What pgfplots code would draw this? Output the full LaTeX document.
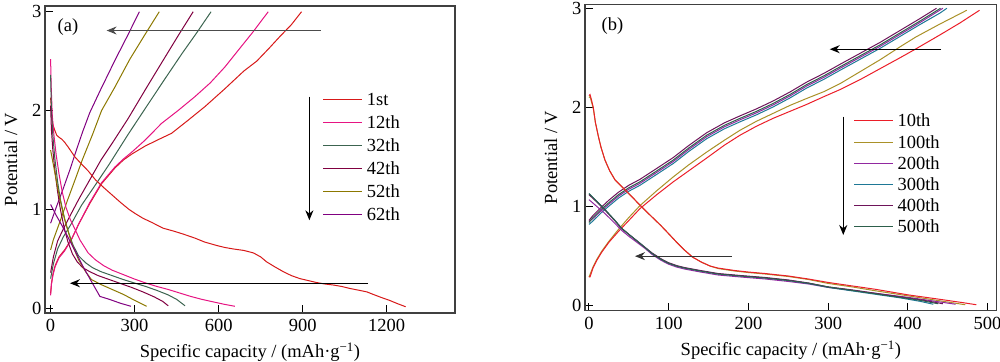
\documentclass[border=0pt]{standalone}
\usepackage{fontspec}
\setmainfont{Liberation Serif}
\usepackage{pgfplots}
\pgfplotsset{compat=1.18}
\usetikzlibrary{arrows.meta}
\newcommand\f{\fontsize{18.5}{22}\selectfont}
\definecolor{aA}{RGB}{215,25,25}
\definecolor{aB}{RGB}{230,20,130}
\definecolor{aC}{RGB}{60,100,80}
\definecolor{aD}{RGB}{128,0,64}
\definecolor{aE}{RGB}{140,120,0}
\definecolor{aF}{RGB}{128,0,128}
\definecolor{bA}{RGB}{235,30,40}
\definecolor{bB}{RGB}{170,145,40}
\definecolor{bC}{RGB}{145,40,160}
\definecolor{bD}{RGB}{30,120,150}
\definecolor{bE}{RGB}{110,20,90}
\definecolor{bF}{RGB}{45,95,75}
\tikzset{
  leg/.style={line width=1.1pt},
  legtxt/.style={font=\f, anchor=west, inner sep=0pt, text height=12pt, text depth=0pt},
}
\pgfplotsset{
  mystyle/.style={
    scale only axis,
    axis line style={line width=1.2pt, black!75},
    tick style={black, line width=1pt},
    tick align=inside,
    xtick pos=bottom, ytick pos=left,
    major tick length=8pt,
    font=\f,
    tick label style={font=\f},
    xticklabel style={yshift=-3pt},
    /pgf/number format/assume math mode=true,
    /pgf/number format/1000 sep={},
    xlabel={Specific capacity / (mAh·g\textsuperscript{−1})},
    ylabel={Potential / V},
    xlabel shift=4pt,
    ylabel shift=8pt,
    every axis plot/.append style={line width=1pt},
  },
}
\begin{document}
\begin{tikzpicture}
\path[use as bounding box] (0,0) rectangle (1000pt,361pt);
% ---------------- panel (a)
\begin{axis}[mystyle,
  at={(45pt,48pt)}, anchor=south west,
  width=410pt, height=307pt,
  xmin=-20, xmax=1444, ymin=-0.048, ymax=3.058,
  xtick={0,300,600,900,1200}, ytick={0,1,2,3},
]
% charge curves
\addplot[aA] coordinates {(0,0.15) (3,0.25) (8,0.34) (16,0.43) (30,0.52) (50,0.59) (75,0.70) (100,0.85) (140,1.06) (182,1.26) (230,1.42) (260,1.50) (290,1.56) (337,1.64) (380,1.70) (432,1.77) (490,1.90) (551,2.04) (622,2.22) (690,2.40) (736,2.50) (780,2.63) (819,2.75) (860,2.87) (896,3.0)};
\addplot[aB] coordinates {(0,0.13) (3,0.24) (8,0.33) (16,0.42) (30,0.51) (50,0.58) (75,0.70) (100,0.85) (140,1.07) (182,1.27) (230,1.43) (260,1.51) (290,1.58) (337,1.70) (396,1.87) (455,2.0) (515,2.14) (570,2.28) (622,2.44) (670,2.61) (724,2.80) (777,3.0)};
\addplot[aC] coordinates {(0,0.30) (10,0.45) (25,0.60) (45,0.72) (75,0.86) (110,1.04) (158,1.24) (210,1.46) (277,1.76) (340,2.03) (408,2.32) (470,2.58) (520,2.78) (573,3.0)};
\addplot[aD] coordinates {(0,0.36) (10,0.52) (25,0.68) (45,0.80) (63,0.90) (100,1.10) (146,1.33) (180,1.50) (220,1.67) (277,1.92) (340,2.22) (400,2.50) (456,2.76) (509,3.0)};
\addplot[aE] coordinates {(0,0.59) (9.5,0.69) (30,0.85) (60,1.09) (90,1.32) (113,1.50) (150,1.76) (182,2.0) (230,2.24) (283,2.52) (335,2.76) (388,3.0)};
\addplot[aF] coordinates {(0,0.86) (20,1.02) (45,1.21) (70,1.41) (92,1.60) (115,1.79) (140,1.98) (180,2.22) (230,2.51) (275,2.76) (317,3.0)};
% discharge curves
\addplot[aA] coordinates {(0,2.13) (2,2.05) (4,1.95) (8,1.86) (15,1.80) (22,1.75) (30,1.73) (40,1.71) (50,1.68) (63,1.63) (87,1.53) (110,1.46) (134,1.39) (160,1.30) (190,1.22) (218,1.15) (250,1.07) (280,1.00) (301,0.96) (330,0.91) (360,0.87) (402,0.81) (440,0.78) (474,0.75) (515,0.71) (550,0.67) (593,0.635) (622,0.615) (652,0.60) (690,0.585) (724,0.56) (750,0.52) (771,0.47) (800,0.42) (831,0.37) (860,0.33) (890,0.30) (920,0.28) (950,0.26) (980,0.245) (1010,0.235) (1040,0.22) (1069,0.20) (1105,0.18) (1130,0.165) (1152,0.14) (1180,0.11) (1210,0.08) (1240,0.045) (1268,0.015)};
\addplot[aB] coordinates {(0,2.52) (2,2.25) (6,1.95) (12,1.75) (20,1.55) (30,1.36) (42,1.17) (55,1.02) (70,0.90) (87,0.80) (105,0.69) (134,0.56) (160,0.49) (190,0.43) (220,0.385) (260,0.34) (300,0.295) (340,0.255) (380,0.22) (420,0.19) (460,0.155) (500,0.12) (540,0.09) (580,0.065) (620,0.04) (658,0.02)};
\addplot[aC] coordinates {(0,2.36) (3,2.0) (8,1.75) (15,1.52) (25,1.28) (35,1.10) (50,0.90) (65,0.76) (80,0.64) (100,0.53) (125,0.46) (150,0.41) (180,0.37) (220,0.33) (260,0.29) (300,0.255) (340,0.22) (380,0.18) (420,0.135) (450,0.09) (480,0.025)};
\addplot[aD] coordinates {(0,2.05) (3,1.8) (8,1.6) (15,1.4) (25,1.18) (35,1.0) (48,0.82) (62,0.67) (78,0.55) (95,0.47) (115,0.41) (140,0.37) (170,0.33) (210,0.29) (250,0.25) (290,0.21) (330,0.165) (370,0.115) (400,0.07) (420,0.025)};
\addplot[aE] coordinates {(0,1.6) (10,1.45) (25,1.22) (40,1.02) (55,0.85) (75,0.66) (100,0.49) (125,0.37) (146,0.29) (180,0.24) (220,0.19) (260,0.14) (300,0.08) (343,0.02)};
\addplot[aF] coordinates {(0,1.05) (20,0.94) (40,0.84) (60,0.73) (80,0.62) (100,0.51) (120,0.40) (140,0.30) (160,0.20) (176,0.12) (210,0.09) (250,0.05) (287,0.02)};
% legend
\draw[aA, leg] (axis cs:974,2.113) -- (axis cs:1111,2.113); \node[legtxt] at (axis cs:1129,2.113) {1st};
\draw[aB, leg] (axis cs:974,1.876) -- (axis cs:1111,1.876); \node[legtxt] at (axis cs:1129,1.876) {12th};
\draw[aC, leg] (axis cs:974,1.644) -- (axis cs:1111,1.644); \node[legtxt] at (axis cs:1129,1.644) {32th};
\draw[aD, leg] (axis cs:974,1.416) -- (axis cs:1111,1.416); \node[legtxt] at (axis cs:1129,1.416) {42th};
\draw[aE, leg] (axis cs:974,1.179) -- (axis cs:1111,1.179); \node[legtxt] at (axis cs:1129,1.179) {52th};
\draw[aF, leg] (axis cs:974,0.950) -- (axis cs:1111,0.950); \node[legtxt] at (axis cs:1129,0.950) {62th};
\draw[black!70, line width=1.3pt, -{Stealth[length=10pt,width=8pt]}] (axis cs:964,2.81) -- (axis cs:200,2.81);
\draw[black, line width=1.1pt, -{Stealth[length=10pt,width=8pt]}] (axis cs:1134,0.253) -- (axis cs:69,0.253);
\draw[black, line width=1.1pt, -{Stealth[length=10pt,width=8pt]}] (axis cs:924,2.14) -- (axis cs:924,0.89);
\node[font=\f] at (axis cs:62,2.84) {(a)};
\end{axis}
% ---------------- panel (b)
\begin{axis}[mystyle,
  at={(585pt,50.3pt)}, anchor=south west,
  width=411.7pt, height=306.4pt,
  xmin=-5, xmax=511.5, ymin=-0.05, ymax=3.04,
  xtick={0,100,200,300,400,500}, ytick={0,1,2,3},
]
% charge curves
\addplot[bB] coordinates {(0,0.29) (5,0.39) (10,0.47) (16,0.55) (25,0.65) (37,0.77) (50,0.89) (64,1.01) (85,1.16) (105.8,1.30) (125,1.42) (147.7,1.55) (170,1.67) (189.5,1.77) (210,1.86) (231,1.94) (252,2.02) (273,2.09) (295,2.16) (315,2.24) (340,2.36) (365,2.48) (390,2.61) (410,2.71) (440,2.84) (474,2.98)};
\addplot[bA] coordinates {(0,0.29) (1.3,0.29) (5,0.38) (10,0.46) (16,0.54) (25,0.64) (37,0.75) (50,0.86) (64,0.98) (85,1.12) (105.8,1.25) (125,1.36) (147.7,1.49) (170,1.62) (189.5,1.72) (210,1.81) (231,1.89) (252,1.96) (273,2.03) (295,2.11) (315,2.18) (340,2.28) (365,2.39) (390,2.50) (410,2.59) (440,2.73) (465,2.85) (490,2.98)};
\addplot[bC] coordinates {(0,0.85) (5,0.88) (15,0.955) (25,1.025) (37,1.105) (50,1.175) (64,1.235) (85,1.345) (105.8,1.455) (125,1.575) (147.7,1.705) (170,1.805) (189.5,1.875) (210,1.945) (231,2.025) (252,2.115) (273,2.215) (295,2.305) (315,2.395) (340,2.505) (365,2.615) (390,2.735) (415,2.855) (444,3.0)};
\addplot[bD] coordinates {(0,0.82) (5,0.855) (15,0.935) (25,1.005) (37,1.085) (50,1.155) (64,1.215) (85,1.325) (105.8,1.435) (125,1.555) (147.7,1.685) (170,1.785) (189.5,1.855) (210,1.925) (231,2.005) (252,2.095) (273,2.195) (295,2.285) (315,2.375) (340,2.485) (365,2.595) (390,2.715) (415,2.835) (440,2.95) (449,3.0)};
\addplot[bE] coordinates {(0,0.86) (5,0.91) (15,0.99) (25,1.065) (37,1.145) (50,1.215) (64,1.275) (85,1.385) (105.8,1.495) (125,1.615) (147.7,1.745) (170,1.845) (189.5,1.915) (210,1.985) (231,2.065) (252,2.155) (273,2.255) (295,2.345) (315,2.435) (340,2.545) (365,2.655) (390,2.775) (415,2.895) (436,3.0)};
\addplot[bF] coordinates {(0,0.84) (5,0.89) (15,0.97) (25,1.04) (37,1.12) (50,1.19) (64,1.25) (85,1.36) (105.8,1.47) (125,1.59) (147.7,1.72) (170,1.82) (189.5,1.89) (210,1.96) (231,2.04) (252,2.13) (273,2.23) (295,2.32) (315,2.41) (340,2.52) (365,2.63) (390,2.75) (415,2.87) (441,3.0)};
% discharge curves
\addplot[bB] coordinates {(0,2.10) (1.3,2.11) (3,2.06) (5.4,1.99) (8,1.85) (11.7,1.71) (15,1.6) (20,1.47) (26,1.36) (32.6,1.27) (45,1.17) (55,1.09) (62,1.03) (72,0.95) (81,0.88) (90,0.81) (99.5,0.73) (110,0.64) (120,0.56) (130,0.49) (141,0.44) (152,0.40) (162,0.375) (183,0.35) (200,0.335) (221,0.32) (250,0.295) (275,0.265) (300,0.225) (330,0.19) (360,0.15) (400,0.10) (440,0.05) (472,0.01)};
\addplot[bA] coordinates {(0,2.12) (1.3,2.13) (3,2.08) (5.4,2.0) (8,1.85) (11.7,1.71) (15,1.6) (20,1.47) (26,1.36) (32.6,1.27) (45,1.17) (55,1.09) (62,1.03) (72,0.95) (81,0.88) (90,0.81) (99.5,0.73) (110,0.64) (120,0.56) (130,0.49) (141,0.44) (152,0.40) (162,0.38) (183,0.355) (200,0.34) (221,0.325) (250,0.30) (275,0.27) (300,0.235) (330,0.20) (360,0.165) (400,0.11) (440,0.065) (470,0.03) (486,0.01)};
\addplot[bC] coordinates {(0,1.07) (10,1.00) (20,0.93) (32.6,0.83) (41,0.76) (50,0.70) (60,0.64) (70,0.58) (78.7,0.52) (90,0.46) (99.5,0.42) (110,0.39) (120,0.37) (140,0.34) (162,0.31) (190,0.29) (221,0.27) (250,0.245) (275,0.22) (300,0.185) (330,0.155) (360,0.125) (400,0.085) (430,0.05) (460,0.015)};
\addplot[bD] coordinates {(0,1.13) (10,1.05) (20,0.97) (32.6,0.86) (41,0.78) (50,0.72) (60,0.655) (70,0.59) (78.7,0.53) (90,0.47) (99.5,0.43) (110,0.40) (120,0.38) (140,0.35) (162,0.32) (190,0.30) (221,0.28) (250,0.255) (275,0.225) (300,0.185) (330,0.15) (360,0.115) (390,0.08) (415,0.045) (432,0.015)};
\addplot[bE] coordinates {(0,1.12) (10,1.045) (20,0.965) (32.6,0.855) (41,0.78) (50,0.72) (60,0.655) (70,0.59) (78.7,0.535) (90,0.475) (99.5,0.435) (110,0.405) (120,0.385) (140,0.355) (162,0.325) (190,0.305) (221,0.285) (250,0.26) (275,0.23) (300,0.19) (330,0.16) (360,0.125) (390,0.09) (420,0.055) (444,0.02)};
\addplot[bF] coordinates {(0,1.13) (10,1.05) (20,0.97) (32.6,0.86) (41,0.78) (50,0.72) (60,0.655) (70,0.59) (78.7,0.53) (90,0.47) (99.5,0.43) (110,0.40) (120,0.38) (140,0.35) (162,0.32) (190,0.30) (221,0.28) (250,0.255) (275,0.228) (300,0.19) (330,0.155) (360,0.12) (390,0.085) (415,0.055) (438,0.02)};
% legend
\draw[bA, leg] (axis cs:332.5,1.867) -- (axis cs:381,1.867); \node[legtxt] at (axis cs:386.8,1.867) {10th};
\draw[bB, leg] (axis cs:332.5,1.649) -- (axis cs:381,1.649); \node[legtxt] at (axis cs:386.8,1.649) {100th};
\draw[bC, leg] (axis cs:332.5,1.437) -- (axis cs:381,1.437); \node[legtxt] at (axis cs:386.8,1.437) {200th};
\draw[bD, leg] (axis cs:332.5,1.225) -- (axis cs:381,1.225); \node[legtxt] at (axis cs:386.8,1.225) {300th};
\draw[bE, leg] (axis cs:332.5,1.009) -- (axis cs:381,1.009); \node[legtxt] at (axis cs:386.8,1.009) {400th};
\draw[bF, leg] (axis cs:332.5,0.797) -- (axis cs:381,0.797); \node[legtxt] at (axis cs:386.8,0.797) {500th};
\draw[black, line width=1.1pt, -{Stealth[length=10pt,width=8pt]}] (axis cs:441.6,2.587) -- (axis cs:302,2.587);
\draw[black!80, line width=1.1pt, -{Stealth[length=10pt,width=8pt]}] (axis cs:179,0.50) -- (axis cs:57.7,0.50);
\draw[black, line width=1.1pt, -{Stealth[length=10pt,width=8pt]}] (axis cs:319,1.907) -- (axis cs:319,0.713);
\node[font=\f] at (axis cs:29.5,2.825) {(b)};
\end{axis}
\end{tikzpicture}
\end{document}
